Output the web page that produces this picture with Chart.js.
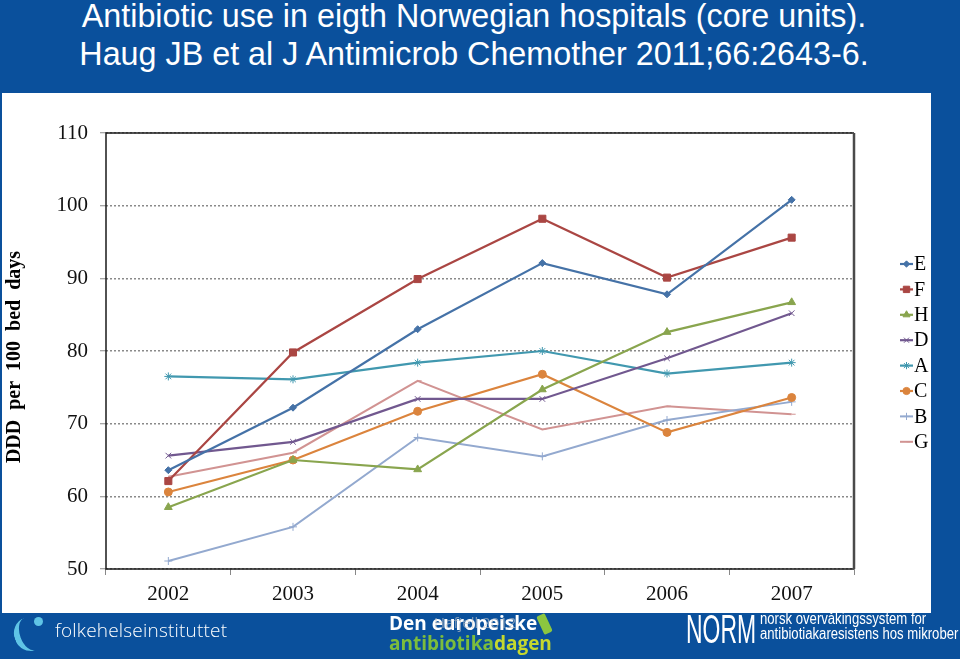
<!DOCTYPE html>
<html>
<head>
<meta charset="utf-8">
<script src="https://cdn.jsdelivr.net/npm/chart.js@4.4.1/dist/chart.umd.min.js"></script>
<style>
  html, body { margin:0; padding:0; width:960px; height:659px; overflow:hidden; background:#0a509c; }
  #title { position:absolute; left:0; top:-3px; width:948px; text-align:center; color:#fff;
           font-family:"Liberation Sans", Arial, sans-serif; font-size:32.3px; line-height:38px; white-space:nowrap; }
  #panel { position:absolute; left:2px; top:93px; width:929px; height:520px; background:#fff; }
  #chart { position:absolute; left:0; top:0; }
  .ft { position:absolute; color:#fff; white-space:nowrap; font-family:"Open Sans","Liberation Sans",sans-serif; }
</style>
</head>
<body>
<div id="title">Antibiotic use in eigth Norwegian hospitals (core units).<br>Haug JB et al J Antimicrob Chemother 2011;66:2643-6.</div>
<div id="panel"><canvas id="chart" width="929" height="520"></canvas></div>

<!-- footer -->
<div style="position:absolute;left:14px;top:617px;width:26px;height:34px;border-left:6px solid #5fc4e6;border-radius:60% 0 0 60%;transform:rotate(-20deg);"></div>
<div style="position:absolute;left:34px;top:617px;width:9px;height:9px;border-radius:50%;background:#5fc4e6;"></div>
<div class="ft" style="left:55px;top:617px;font-size:19px;font-weight:300;letter-spacing:0.2px;">folkehelseinstituttet</div>

<div class="ft" style="left:389px;top:613px;font-size:19px;font-weight:700;line-height:20px;">Den europeiske<br><span style="color:#7cbd3c;">antibiotika</span><span style="color:#c4d82e;">dagen</span></div>
<div style="position:absolute;left:540px;top:614px;width:9px;height:20px;background:#8cc63f;border-radius:2px;transform:rotate(-25deg);"></div>
<div class="ft" style="left:434px;top:612px;font-size:15px;color:rgba(200,200,200,0.6);">Hafjell 2012</div>

<div class="ft" style="left:686px;top:606px;font-size:41px;font-family:'Liberation Sans',sans-serif;transform:scaleX(0.56);transform-origin:left top;">NORM</div>
<div class="ft" style="left:760px;top:611px;font-size:16px;line-height:15px;font-family:'Liberation Sans',sans-serif;transform:scaleX(0.82);transform-origin:left top;">norsk overvåkingssystem for<br>antibiotiakaresistens hos mikrober</div>

<script>
const years = ['2002', '2003', '2004', '2005', '2006', '2007'];
const seriesNames = ['E', 'F', 'H', 'D', 'A', 'C', 'B', 'G'];
const E = [63.6, 72.2, 83.0, 92.1, 87.8, 100.8];
const F = [62.1, 79.8, 89.9, 98.2, 90.1, 95.6];
const H = [58.5, 65.0, 63.7, 74.7, 82.6, 86.7];
const D = [65.6, 67.5, 73.4, 73.4, 79.0, 85.2];
const A = [76.5, 76.1, 78.4, 80.0, 76.9, 78.4];
const C = [60.6, 65.0, 71.7, 76.8, 68.8, 73.6];
const B = [51.1, 55.8, 68.1, 65.5, 70.5, 73.0];
const G = [62.7, 66.0, 75.9, 69.2, 72.4, 71.3];
const yTicks = [50, 60, 70, 80, 90, 100, 110];
const yTitle = 'DDD  per  100  bed  days';

const values = [E, F, H, D, A, C, B, G];
const colors = ['#4572A7', '#AA4643', '#89A54E', '#71588F', '#4198AF', '#DB843D', '#93A9CF', '#D19392'];
const styles = ['rectRot', 'rect', 'triangle', 'crossRot', 'star', 'circle', 'cross', 'dash'];
const radii  = [3.5, 5, 4.5, 4, 4, 4, 4, 4];
const widths = [2.2, 2.2, 2.2, 2.2, 2.2, 2.2, 2, 2];

const datasets = seriesNames.map((n, i) => ({
  label: n,
  data: values[i],
  borderColor: colors[i],
  backgroundColor: colors[i],
  borderWidth: widths[i],
  pointStyle: styles[i],
  pointRadius: radii[i],
  pointBorderWidth: 1,
  pointBorderColor: colors[i],
  pointBackgroundColor: colors[i],
  tension: 0
}));

const serif = '"Liberation Serif", "Times New Roman", serif';

const framePlugin = {
  id: 'frame',
  beforeDatasetsDraw(chart) {
    const { ctx, chartArea: a } = chart;
    ctx.save();
    ctx.strokeStyle = '#1a1a1a';
    ctx.lineWidth = 1.5;
    ctx.beginPath();
    ctx.moveTo(a.right, a.top);
    ctx.lineTo(a.left, a.top);
    ctx.lineTo(a.left, a.bottom);
    ctx.lineTo(a.right, a.bottom);
    ctx.stroke();
    ctx.strokeStyle = '#4a4a4a';
    ctx.lineWidth = 2.5;
    ctx.beginPath();
    ctx.moveTo(a.right, a.top);
    ctx.lineTo(a.right, a.bottom);
    ctx.stroke();
    // y axis title
    ctx.translate(13, 264);
    ctx.rotate(-Math.PI / 2);
    ctx.fillStyle = '#000';
    ctx.font = 'bold 20px ' + serif;
    ctx.textAlign = 'center';
    ctx.textBaseline = 'middle';
    ctx.fillText(yTitle, 0, 0);
    ctx.restore();
  }
};

const drawPt = Chart.helpers.drawPoint;
const legendPlugin = {
  id: 'sideLegend',
  afterDraw(chart) {
    const { ctx, chartArea: a } = chart;
    const x0 = a.right + 46, y0 = 171, step = 25.4;
    ctx.save();
    chart.data.datasets.forEach((ds, i) => {
      const y = y0 + i * step;
      ctx.strokeStyle = ds.borderColor;
      ctx.lineWidth = ds.borderWidth;
      ctx.beginPath();
      ctx.moveTo(x0, y);
      ctx.lineTo(x0 + 13, y);
      ctx.stroke();
      ctx.fillStyle = ds.pointBackgroundColor;
      ctx.strokeStyle = ds.pointBorderColor;
      ctx.lineWidth = 1;
      drawPt(ctx, { pointStyle: ds.pointStyle, rotation: 0, borderWidth: 1, radius: ds.pointRadius * 0.9 }, x0 + 6.5, y);
      ctx.fillStyle = '#000';
      ctx.font = '20px ' + serif;
      ctx.textBaseline = 'middle';
      ctx.textAlign = 'left';
      ctx.fillText(ds.label, x0 + 14, y + 1);
    });
    ctx.restore();
  }
};

new Chart(document.getElementById('chart'), {
  type: 'line',
  data: { labels: years, datasets },
  options: {
    responsive: false,
    animation: false,
    layout: { padding: { top: 40, right: 77, bottom: 0, left: 0 } },
    plugins: { legend: { display: false }, title: { display: false }, tooltip: { enabled: false } },
    scales: {
      x: {
        offset: true,
        afterFit(s) { s.height = 44; },
        grid: { display: true, drawOnChartArea: false, drawTicks: true, offset: true,
                tickLength: 6, tickColor: '#888', tickWidth: 1 },
        border: { display: false },
        ticks: { color: '#111', font: { family: serif, size: 21 }, padding: 7, maxRotation: 0 }
      },
      y: {
        min: 50, max: 110,
        afterFit(s) { s.width = 104; },
        afterBuildTicks(s) { s.ticks = yTicks.map(v => ({ value: v })); },
        grid: { color: '#8a8a8a', lineWidth: 1.5, tickLength: 6, tickColor: '#888', tickWidth: 1, tickBorderDash: [] },
        border: { display: false, dash: [2, 2] },
        ticks: { color: '#111', font: { family: serif, size: 21 }, padding: 12 }
      }
    }
  },
  plugins: [framePlugin, legendPlugin]
});
</script>
</body>
</html>
